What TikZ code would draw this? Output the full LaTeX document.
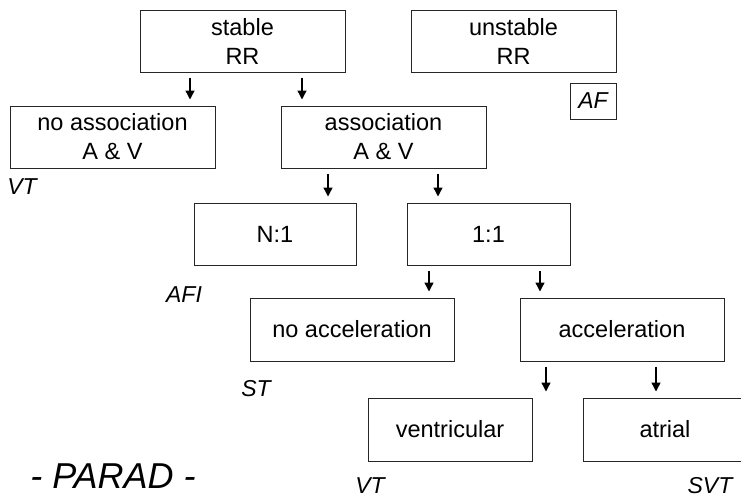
\documentclass[tikz,border=0pt]{standalone}
\usepackage{fontspec}
\setmainfont{Liberation Sans}
\usetikzlibrary{arrows.meta}
\begin{document}
\begin{tikzpicture}[x=1pt,y=-1pt,
  box/.style={draw=black!85,line width=1pt,rectangle,minimum width=205pt,minimum height=62pt,inner sep=0pt,align=center,
    font=\fontsize{23.5}{29}\selectfont},
  lbl/.style={inner sep=0pt,font=\fontsize{23}{26}\selectfont\itshape},
  arr/.style={line width=1.4pt,-{Triangle[length=9pt,width=9pt]},shorten <=5pt,shorten >=6pt}]
\useasboundingbox (0,0) rectangle (741,498);
\fill[white] (0,0) rectangle (741,498);
\node[box] (stable) at (242.5,41) {stable\\RR};
\node[box] (unstable) at (513.5,41) {unstable\\RR};
\node[box,minimum width=46pt,minimum height=36pt,font=\fontsize{23}{26}\selectfont\itshape] (af) at (593,101) {AF};
\node[box] (noassoc) at (112.5,137) {no association\\A \& V};
\node[box] (assoc) at (383.5,137) {association\\A \& V};
\node[box,minimum width=162pt] (n1) at (275,234) {N:1};
\node[box,minimum width=163pt] (one) at (488.5,234) {1:1};
\node[box,minimum width=204pt,minimum height=63pt] (noacc) at (352,329.5) {no acceleration};
\node[box,minimum width=204pt,minimum height=63pt] (acc) at (622,329.5) {acceleration};
\node[box,minimum width=164pt,minimum height=63pt] (ventr) at (450,429.5) {ventricular};
\node[box,minimum width=164pt,minimum height=63pt] (atrial) at (665,429.5) {atrial};
\node[lbl] (vt1) at (22,187) {VT};
\node[lbl] (afi) at (184,295) {AFI};
\node[lbl] (st) at (256,389) {ST};
\node[lbl] (vt2) at (370,486) {VT};
\node[lbl] (svt) at (710,486) {SVT};
\node[inner sep=0pt,font=\fontsize{36}{40}\selectfont\itshape] (parad) at (113,476) {- PARAD -};
\draw[arr] ([xshift=-52.5pt]stable.south) -- ([xshift=77.5pt]noassoc.north);
\draw[arr] ([xshift=59.5pt]stable.south) -- ([xshift=-81.5pt]assoc.north);
\draw[arr] ([xshift=-55.5pt]assoc.south) -- ([xshift=53pt]n1.north);
\draw[arr] ([xshift=54.5pt]assoc.south) -- ([xshift=-50.5pt]one.north);
\draw[arr] ([xshift=-59.5pt]one.south) -- ([xshift=77pt]noacc.north);
\draw[arr] ([xshift=51.5pt]one.south) -- ([xshift=-82pt]acc.north);
\draw[arr] ([xshift=-76pt]acc.south) -- ([xshift=96pt]ventr.north);
\draw[arr] ([xshift=34pt]acc.south) -- ([xshift=-9pt]atrial.north);
\end{tikzpicture}
\end{document}
